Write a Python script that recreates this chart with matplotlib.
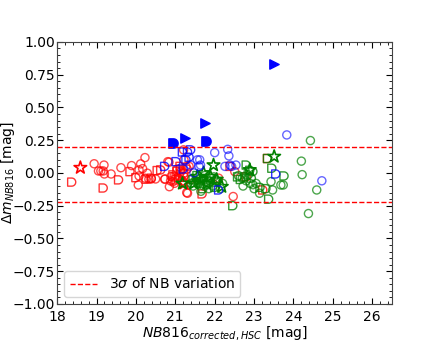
import numpy as np
import matplotlib
matplotlib.use("Agg")
import matplotlib.pyplot as plt
from matplotlib.path import Path
from matplotlib.ticker import AutoMinorLocator

# ---------------- data ----------------
red_circ_x = [18.94, 19.05, 19.19, 19.17, 19.2, 19.11, 19.37, 19.62, 19.89, 20.08, 20.08, 20.06,
              20.12, 20.23, 20.17, 20.29, 20.23, 20.39, 20.5, 20.33, 20.74, 20.84, 20.88, 20.98,
              21.29, 21.21, 20.73, 20.89, 21.14, 21.22, 20.85, 20.94, 20.81, 21.31, 22.47, 21.22,
              21.27, 21.35, 22.1, 22.51, 21.05, 21.1, 21.4]
red_circ_y = [0.07, 0.015, 0.06, 0.015, -0.008, 0.015, -0.008, 0.04, 0.056, 0.023, -0.023, -0.092,
              0.069, 0.117, 0.033, -0.002, -0.04, -0.046, -0.046, -0.048, -0.046, 0.082, -0.061, -0.079,
              -0.15, 0.176, -0.048, -0.028, 0.01, -0.028, -0.105, -0.066, 0.086, -0.155, -0.18, 0.1,
              0.05, 0.05, -0.04, 0.01, 0.03, -0.02, -0.05]
red_D_x = [18.37, 19.17, 19.56, 19.85, 20.0, 20.26, 20.54, 20.63, 20.39, 20.94, 21.04, 21.14,
           21.22, 21.02, 21.68, 22.39, 22.8, 23.22, 23.34, 21.08, 21.18, 21.3, 21.12, 20.99]
red_D_y = [-0.07, -0.115, -0.053, 0.01, -0.036, -0.048, 0.018, 0.023, -0.04, -0.015, 0.013, 0.023,
           -0.002, -0.053, -0.16, 0.05, -0.03, -0.13, 0.11, -0.04, -0.06, 0.03, 0.05, -0.03]
red_star_x = [18.59, 21.22]
red_star_y = [0.04, -0.079]

blue_circ_x = [23.83, 24.72, 22.0, 22.33, 22.36, 22.43, 22.54, 21.62, 21.56, 21.64, 21.6, 21.47,
               22.26, 22.39, 21.39]
blue_circ_y = [0.29, -0.06, 0.155, 0.18, 0.13, 0.05, 0.06, 0.1, 0.1, 0.06, 0.05, 0.0,
               0.05, 0.06, 0.06]
blue_D_x = [21.02, 21.18, 21.31, 21.39, 20.73, 21.27, 23.55, 22.1, 21.35, 21.2]
blue_D_y = [0.086, 0.16, 0.16, 0.176, 0.05, 0.1, -0.008, -0.13, 0.12, 0.03]
blue_tri_x = [23.51, 21.75, 21.25]
blue_tri_y = [0.83, 0.38, 0.27]
blue_fD_x = [20.95, 21.79]
blue_fD_y = [0.227, 0.247]

green_circ_x = [24.43, 24.2, 24.22, 24.59, 24.38, 23.43, 23.68, 23.74, 23.47, 23.14, 22.97, 23.05,
                22.6, 22.7, 22.8, 22.9, 23.0, 22.72, 21.5, 21.6, 21.72, 21.85, 21.95, 21.8, 21.45,
                21.4, 21.65, 22.05, 21.98, 21.75, 22.2, 22.15]
green_circ_y = [0.247, 0.09, -0.013, -0.13, -0.31, -0.066, -0.092, -0.092, -0.13, -0.155, -0.09, -0.08,
                -0.02, -0.04, -0.06, -0.08, -0.12, -0.1, -0.06, -0.08, -0.1, -0.12, -0.1, -0.05, -0.1,
                -0.08, -0.14, -0.06, -0.03, -0.02, -0.08, -0.12]
green_D_x = [23.34, 23.45, 23.76, 23.37, 22.8, 22.89, 22.85, 22.76, 22.97, 22.93, 22.46, 22.58,
             22.65, 23.15, 23.3, 21.55, 21.65, 21.9, 22.05, 21.45, 21.7, 22.0, 21.6, 21.82]
green_D_y = [0.11, 0.036, -0.023, -0.2, 0.06, 0.02, -0.015, -0.03, 0.01, -0.04, -0.25, -0.03,
             -0.05, -0.11, -0.12, -0.02, -0.05, -0.04, -0.07, -0.05, -0.12, -0.11, -0.07, -0.09]
green_star_x = [23.51, 22.89, 22.18, 21.97, 21.18, 21.72, 21.89, 21.56, 21.47, 21.8, 21.65, 22.05]
green_star_y = [0.125, 0.023, -0.105, 0.06, -0.08, 0.0, -0.028, -0.028, -0.08, -0.08, -0.05, -0.05]

sigma_hi = 0.20
sigma_lo = -0.22

# ---------------- D-shaped marker ----------------
t = np.linspace(-np.pi / 2, np.pi / 2, 20)
verts = [(-1.0, -1.0)] + [(0.0 + np.cos(a), np.sin(a)) for a in t] + [(-1.0, 1.0), (-1.0, -1.0)]
dmark = Path(verts, [Path.MOVETO] + [Path.LINETO] * (len(verts) - 2) + [Path.CLOSEPOLY])

fig = plt.figure(figsize=(4.36, 3.49), dpi=100)
ax = fig.add_axes([0.131, 0.129, 0.768, 0.751])

ax.axhline(sigma_hi, color='red', ls='--', lw=1, label=r'3$\sigma$ of NB variation')
ax.axhline(sigma_lo, color='red', ls='--', lw=1)

ms = 34
ax.scatter(red_circ_x, red_circ_y, s=ms, facecolors='none', edgecolors='red', alpha=0.7, lw=1)
ax.scatter(red_D_x, red_D_y, s=ms, marker=dmark, facecolors='none', edgecolors='red', alpha=0.8, lw=1)
ax.scatter(red_star_x, red_star_y, s=90, marker='*', facecolors='none', edgecolors='red', lw=1.2)

ax.scatter(green_circ_x, green_circ_y, s=ms, facecolors='none', edgecolors='green', alpha=0.7, lw=1)
ax.scatter(green_D_x, green_D_y, s=ms, marker=dmark, facecolors='none', edgecolors='green', alpha=0.8, lw=1)
ax.scatter(green_star_x, green_star_y, s=90, marker='*', facecolors='none', edgecolors='green', lw=1.2)

ax.scatter(blue_circ_x, blue_circ_y, s=ms, facecolors='none', edgecolors='blue', alpha=0.6, lw=1)
ax.scatter(blue_D_x, blue_D_y, s=ms, marker=dmark, facecolors='none', edgecolors='blue', alpha=0.8, lw=1)
ax.scatter(blue_tri_x, blue_tri_y, s=45, marker='>', color='blue')
ax.scatter(blue_fD_x, blue_fD_y, s=45, marker=dmark, color='blue')

ax.set_xlim(18, 26.5)
ax.set_ylim(-1.0, 1.0)
ax.set_xticks(np.arange(18, 27, 1))
ax.set_yticks(np.arange(-1.0, 1.01, 0.25))
ax.xaxis.set_minor_locator(AutoMinorLocator())
ax.yaxis.set_minor_locator(AutoMinorLocator())
ax.tick_params(which='both', direction='in', top=True, right=True, labelsize=10)
ax.tick_params(axis='y', which='both', pad=1.5)
ax.tick_params(axis='x', which='both', pad=4)
ax.tick_params(which='major', length=4)
ax.tick_params(which='minor', length=2)
for sp in ax.spines.values():
    sp.set_color('#444444')

ax.set_xlabel(r'$NB816_{corrected,HSC}$ [mag]', fontsize=10, labelpad=0)
ax.set_ylabel(r'$\Delta m_{NB816}$ [mag]', fontsize=10)
ax.yaxis.set_label_coords(-0.121, 0.5)
ax.legend(loc='lower left', fontsize=10)

fig.savefig('out.png', dpi=100)
